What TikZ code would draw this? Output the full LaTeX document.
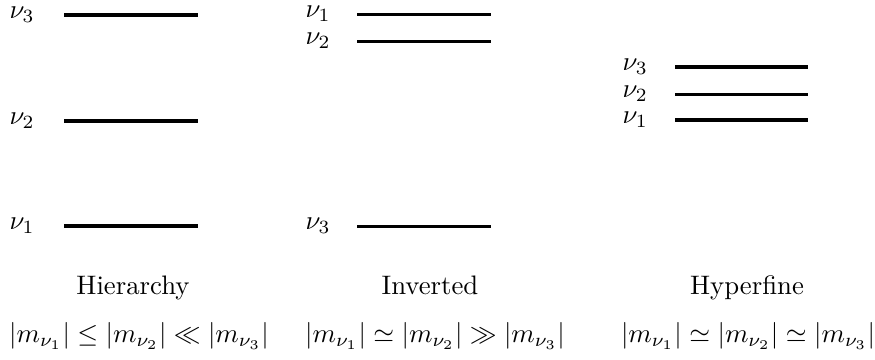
\documentclass[tikz,border=0pt]{standalone}
\begin{document}
\begin{tikzpicture}[x=0.4pt,y=-0.4pt,
  lvl/.style={line width=1.45pt},
  lvlthin/.style={line width=1.2pt},
  nu/.style={anchor=west,inner sep=0pt,scale=1.07},
  captext/.style={inner sep=0pt,scale=1.07},
  titletext/.style={inner sep=0pt,scale=1.07,anchor=base}]
\useasboundingbox (0,0) rectangle (875,360);
% Hierarchy
\node[nu] (h3) at (9,15) {$\nu_3$};
\node[nu] (h2) at (9,121) {$\nu_2$};
\node[nu] (h1) at (9,226) {$\nu_1$};
\coordinate (h3a) at (64,15); \coordinate (h3b) at (198,15);
\coordinate (h2a) at (64,121); \coordinate (h2b) at (198,121);
\coordinate (h1a) at (64,226); \coordinate (h1b) at (198,226);
\draw[lvl] (h3a) -- (h3b);
\draw[lvl] (h2a) -- (h2b);
\draw[lvl] (h1a) -- (h1b);
% Inverted
\node[nu] (i1) at (305,14) {$\nu_1$};
\node[nu] (i2) at (305,41) {$\nu_2$};
\node[nu] (i3) at (305,226) {$\nu_3$};
\coordinate (i1a) at (357,14); \coordinate (i1b) at (491,14);
\coordinate (i2a) at (357,41); \coordinate (i2b) at (491,41);
\coordinate (i3a) at (357,226); \coordinate (i3b) at (491,226);
\draw[lvlthin] (i1a) -- (i1b);
\draw[lvlthin] (i2a) -- (i2b);
\draw[lvlthin] (i3a) -- (i3b);
% Hyperfine
\node[nu] (f3) at (622,67) {$\nu_3$};
\node[nu] (f2) at (622,94) {$\nu_2$};
\node[nu] (f1) at (622,120) {$\nu_1$};
\coordinate (f3a) at (675,67); \coordinate (f3b) at (808,67);
\coordinate (f2a) at (675,94); \coordinate (f2b) at (808,94);
\coordinate (f1a) at (675,120); \coordinate (f1b) at (808,120);
\draw[lvl] (f3a) -- (f3b);
\draw[lvlthin] (f2a) -- (f2b);
\draw[lvl] (f1a) -- (f1b);
% captions
\node[titletext] (th) at (133,294) {Hierarchy};
\node[titletext] (ti) at (430,294) {Inverted};
\node[titletext] (tf) at (747,294) {Hyperfine};
\node[captext] (eh) at (139,336) {$|m_{\nu_1}|\le|m_{\nu_2}|\ll|m_{\nu_3}|$};
\node[captext] (ei) at (435,336) {$|m_{\nu_1}|\simeq|m_{\nu_2}|\gg|m_{\nu_3}|$};
\node[captext] (ef) at (748,336) {$|m_{\nu_1}|\simeq|m_{\nu_2}|\simeq|m_{\nu_3}|$};
\end{tikzpicture}
\end{document}
